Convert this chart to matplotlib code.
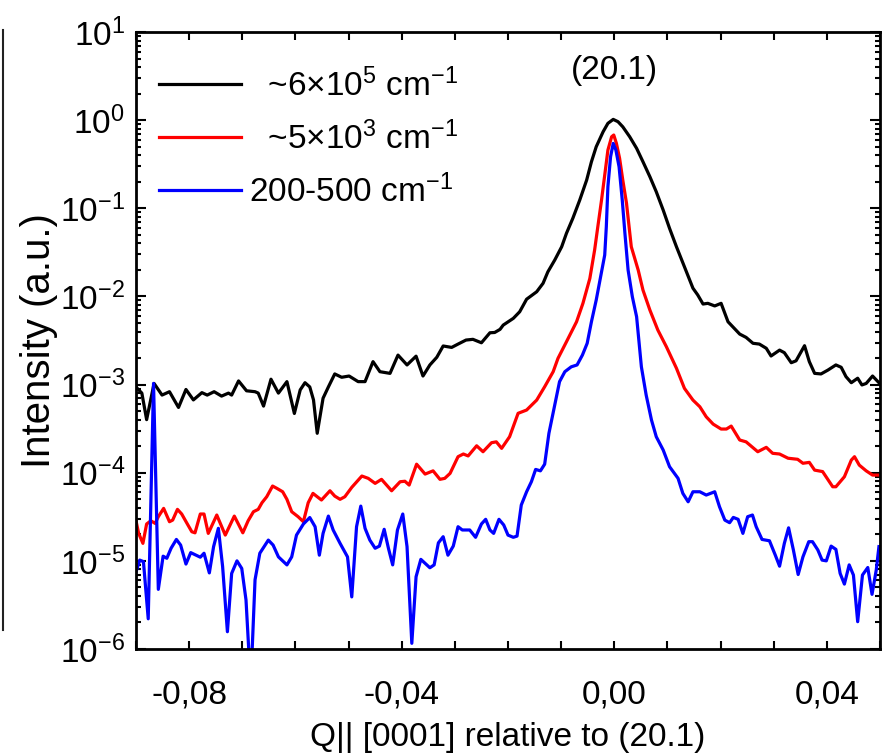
import numpy as np
import matplotlib
matplotlib.use("Agg")
import matplotlib.pyplot as plt
from matplotlib.ticker import MultipleLocator, FixedLocator, LogLocator, LogFormatterMathtext, NullFormatter
from matplotlib.lines import Line2D

plt.rcParams['font.family'] = ['Liberation Sans', 'DejaVu Sans']
plt.rcParams['mathtext.fontset'] = 'custom'
plt.rcParams['mathtext.rm'] = 'Liberation Sans'
plt.rcParams['mathtext.it'] = 'Liberation Sans:italic'
plt.rcParams['mathtext.bf'] = 'Liberation Sans:bold'
plt.rcParams['axes.unicode_minus'] = False

# ---------------- data ----------------
labels = [r"  ~6×10$^5$ cm$^{-1}$", r"  ~5×10$^3$ cm$^{-1}$", r"200-500 cm$^{-1}$"]
colors = ["black", "#ff0000", "#0000ff"]
x_tick_values = [-0.08, -0.04, 0.00, 0.04]
x_tick_labels = ["-0,08", "-0,04", "0,00", "0,04"]

q_black = [-0.0898, -0.0889, -0.0880, -0.0866, -0.0851, -0.0837, -0.0820, -0.0806, -0.0792, -0.0776,
           -0.0766, -0.0753, -0.0739, -0.0726, -0.0720, -0.0707, -0.0692, -0.0676, -0.0670, -0.0660,
           -0.0646, -0.0632, -0.0616, -0.0602, -0.0591, -0.0582, -0.0573, -0.0566, -0.0559, -0.0548,
           -0.0538, -0.0526, -0.0513, -0.0499, -0.0482, -0.0469, -0.0454, -0.0441, -0.0422, -0.0407,
           -0.0390, -0.0373, -0.0360, -0.0347, -0.0334, -0.0322, -0.0306, -0.0294, -0.0279, -0.0266,
           -0.0250, -0.0234, -0.0225, -0.0215, -0.0209, -0.0190, -0.0178, -0.0165, -0.0146, -0.0134,
           -0.0125, -0.0112, -0.0099, -0.0090, -0.0078, -0.0065, -0.0052, -0.0043, -0.0034, -0.0021,
           -0.0012, -0.0002, 0.0007, 0.0016, 0.0029, 0.0042, 0.0054, 0.0067, 0.0079, 0.0092,
           0.0104, 0.0117, 0.0132, 0.0148, 0.0157, 0.0167, 0.0176, 0.0189, 0.0201, 0.0214,
           0.0236, 0.0248, 0.0261, 0.0273, 0.0286, 0.0295, 0.0311, 0.0320, 0.0333, 0.0342,
           0.0358, 0.0367, 0.0377, 0.0389, 0.0402, 0.0417, 0.0427, 0.0436, 0.0446, 0.0458,
           0.0466, 0.0474, 0.0486, 0.0498]
i_black = [9.1e-4, 8.0e-4, 4.0e-4, 1.03e-3, 7.6e-4, 8.3e-4, 5.5e-4, 8.8e-4, 6.7e-4, 8.1e-4,
           7.6e-4, 8.3e-4, 7.4e-4, 8.0e-4, 7.6e-4, 1.1e-3, 8.5e-4, 8.3e-4, 8.0e-4, 5.7e-4,
           1.15e-3, 8.0e-4, 1.08e-3, 4.7e-4, 8.7e-4, 1.05e-3, 9.4e-4, 6.7e-4, 2.8e-4, 7.0e-4,
           9.4e-4, 1.32e-3, 1.21e-3, 1.25e-3, 1.08e-3, 1.08e-3, 1.82e-3, 1.4e-3, 1.34e-3, 2.16e-3,
           1.67e-3, 2.1e-3, 1.25e-3, 1.67e-3, 2.04e-3, 2.74e-3, 2.64e-3, 2.88e-3, 3.2e-3, 3.26e-3,
           2.98e-3, 3.87e-3, 3.9e-3, 4.23e-3, 4.73e-3, 5.64e-3, 6.7e-3, 9.3e-3, 1.13e-2, 1.41e-2,
           1.9e-2, 2.59e-2, 3.66e-2, 5.2e-2, 7.7e-2, 0.124, 0.209, 0.337, 0.499, 0.739,
           0.92, 1.02, 0.96, 0.84, 0.648, 0.479, 0.337, 0.228, 0.154, 0.0955,
           0.0592, 0.0366, 0.0217, 0.0124, 0.0104, 8.2e-3, 8.35e-3, 7.8e-3, 8.35e-3, 5.16e-3,
           3.74e-3, 3.43e-3, 2.94e-3, 2.88e-3, 2.58e-3, 2.11e-3, 2.46e-3, 2.3e-3, 1.77e-3, 1.86e-3,
           2.76e-3, 1.82e-3, 1.34e-3, 1.32e-3, 1.46e-3, 1.67e-3, 1.57e-3, 1.23e-3, 1.05e-3, 1.18e-3,
           9.9e-4, 1.03e-3, 1.25e-3, 1.05e-3]

q_red = [-0.0900, -0.0895, -0.0887, -0.0880, -0.0872, -0.0864, -0.0858, -0.0848, -0.0837, -0.0831,
         -0.0822, -0.0814, -0.0804, -0.0795, -0.0789, -0.0779, -0.0772, -0.0764, -0.0748, -0.0732,
         -0.0715, -0.0699, -0.0689, -0.0679, -0.0670, -0.0663, -0.0654, -0.0643, -0.0635, -0.0624,
         -0.0616, -0.0607, -0.0595, -0.0585, -0.0576, -0.0567, -0.0559, -0.0551, -0.0535, -0.0526,
         -0.0516, -0.0507, -0.0494, -0.0475, -0.0463, -0.0450, -0.0438, -0.0419, -0.0403, -0.0394,
         -0.0386, -0.0372, -0.0356, -0.0341, -0.0328, -0.0319, -0.0309, -0.0294, -0.0284, -0.0275,
         -0.0259, -0.0247, -0.0231, -0.0222, -0.0212, -0.0197, -0.0181, -0.0165, -0.0146, -0.0131,
         -0.0115, -0.0106, -0.0090, -0.0071, -0.0059, -0.0046, -0.0037, -0.0031, -0.0024, -0.0018,
         -0.0012, -0.0005, -0.0001, 0.0004, 0.0010, 0.0016, 0.0023, 0.0032, 0.0045, 0.0054,
         0.0067, 0.0082, 0.0098, 0.0117, 0.0132, 0.0148, 0.0161, 0.0173, 0.0186, 0.0201,
         0.0211, 0.0220, 0.0236, 0.0248, 0.0270, 0.0286, 0.0298, 0.0311, 0.0327, 0.0345,
         0.0355, 0.0367, 0.0377, 0.0392, 0.0411, 0.0417, 0.0433, 0.0446, 0.0452, 0.0461,
         0.0474, 0.0486, 0.0498]
i_red = [2.85e-5, 2.05e-5, 1.58e-5, 2.62e-5, 2.85e-5, 2.66e-5, 3.17e-5, 3.94e-5, 2.78e-5, 2.9e-5,
         3.84e-5, 3.4e-5, 2.66e-5, 2.14e-5, 2.08e-5, 3.4e-5, 3.4e-5, 2.05e-5, 3.31e-5, 1.96e-5,
         3.22e-5, 2.08e-5, 2.85e-5, 3.61e-5, 3.84e-5, 4.56e-5, 5.34e-5, 7.06e-5, 6.65e-5, 6.08e-5,
         4.99e-5, 3.61e-5, 3.17e-5, 2.78e-5, 4.56e-5, 5.83e-5, 5.34e-5, 4.9e-5, 6.24e-5, 5.43e-5,
         4.99e-5, 5.34e-5, 6.82e-5, 9.17e-5, 8.63e-5, 7.57e-5, 8.41e-5, 6.24e-5, 7.9e-5, 8.0e-5,
         7.24e-5, 1.25e-4, 9.65e-5, 1.05e-4, 8.41e-5, 8.63e-5, 9.83e-5, 1.52e-4, 1.63e-4, 1.55e-4,
         2.02e-4, 1.73e-4, 2.19e-4, 2.24e-4, 1.89e-4, 2.56e-4, 4.72e-4, 5.14e-4, 6.67e-4, 9.45e-4,
         1.4e-3, 1.98e-3, 3.06e-3, 5.16e-3, 8.35e-3, 0.016, 0.0336, 0.0617, 0.124, 0.238,
         0.458, 0.648, 0.678, 0.545, 0.369, 0.209, 0.114, 0.0366, 0.0199, 0.0118,
         7.0e-3, 4.15e-3, 2.69e-3, 1.53e-3, 9.06e-4, 6.67e-4, 5.6e-4, 4.31e-4, 3.56e-4, 3.13e-4,
         3.13e-4, 3.38e-4, 2.35e-4, 2.24e-4, 1.73e-4, 1.94e-4, 1.66e-4, 1.63e-4, 1.46e-4, 1.42e-4,
         1.28e-4, 1.31e-4, 1.07e-4, 1.03e-4, 6.93e-5, 6.93e-5, 9.0e-5, 1.39e-4, 1.52e-4, 1.22e-4,
         1.05e-4, 9.4e-5, 9.4e-5]

q_blue = [-0.0900, -0.0893, -0.0886, -0.0877, -0.0867, -0.0858, -0.0849, -0.0842, -0.0834, -0.0824,
          -0.0816, -0.0806, -0.0797, -0.0787, -0.0779, -0.0772, -0.0762, -0.0754, -0.0745, -0.0737,
          -0.0728, -0.0720, -0.0710, -0.0701, -0.0693, -0.0687, -0.0682, -0.0676, -0.0667, -0.0651,
          -0.0642, -0.0632, -0.0616, -0.0607, -0.0598, -0.0585, -0.0573, -0.0563, -0.0555, -0.0548,
          -0.0538, -0.0529, -0.0516, -0.0502, -0.0494, -0.0485, -0.0477, -0.0469, -0.0460, -0.0450,
          -0.0442, -0.0433, -0.0425, -0.0417, -0.0408, -0.0398, -0.0390, -0.0381, -0.0373, -0.0364,
          -0.0347, -0.0339, -0.0331, -0.0322, -0.0313, -0.0303, -0.0294, -0.0286, -0.0272, -0.0261,
          -0.0250, -0.0242, -0.0234, -0.0227, -0.0217, -0.0208, -0.0200, -0.0190, -0.0183, -0.0175,
          -0.0165, -0.0156, -0.0148, -0.0139, -0.0131, -0.0123, -0.0112, -0.0103, -0.0093, -0.0081,
          -0.0070, -0.0060, -0.0051, -0.0043, -0.0034, -0.0027, -0.0018, -0.0015, -0.0012, -0.0007,
          -0.0002, 0.0003, 0.0009, 0.0015, 0.0020, 0.0026, 0.0034, 0.0042, 0.0051, 0.0060,
          0.0070, 0.0079, 0.0092, 0.0104, 0.0120, 0.0129, 0.0139, 0.0148, 0.0161, 0.0173,
          0.0189, 0.0198, 0.0208, 0.0217, 0.0224, 0.0233, 0.0242, 0.0251, 0.0260, 0.0267,
          0.0278, 0.0292, 0.0303, 0.0311, 0.0320, 0.0328, 0.0337, 0.0346, 0.0355, 0.0366,
          0.0373, 0.0383, 0.0391, 0.0399, 0.0408, 0.0417, 0.0425, 0.0433, 0.0442, 0.0450,
          0.0458, 0.0467, 0.0477, 0.0485, 0.0493, 0.0498]
i_blue = [7.5e-6, 1.02e-5, 9.8e-6, 2.2e-6, 1.03e-3, 4.75e-6, 1.13e-5, 1.07e-5, 1.39e-5, 1.75e-5,
          1.51e-5, 9.2e-6, 1.24e-5, 1.16e-5, 1.1e-5, 1.22e-5, 7.3e-6, 1.45e-5, 2.34e-5, 8.6e-6,
          1.57e-6, 7.2e-6, 1.0e-5, 8.2e-6, 3.6e-6, 8.0e-7, 8.0e-7, 6.1e-6, 1.22e-5, 1.72e-5,
          1.51e-5, 1.11e-5, 9.0e-6, 1.11e-5, 1.96e-5, 2.62e-5, 3.1e-5, 2.44e-5, 1.16e-5, 2.05e-5,
          3.22e-5, 2.24e-5, 1.58e-5, 1.11e-5, 3.9e-6, 2.44e-5, 4.18e-5, 2.34e-5, 1.72e-5, 1.39e-5,
          1.47e-5, 2.28e-5, 1.39e-5, 9.0e-6, 2.24e-5, 3.4e-5, 1.45e-5, 1.16e-6, 6.6e-6, 1.04e-5,
          8.35e-6, 9.0e-6, 1.6e-5, 1.88e-5, 1.16e-5, 1.47e-5, 2.44e-5, 2.24e-5, 2.24e-5, 1.85e-5,
          2.62e-5, 2.96e-5, 2.24e-5, 2.05e-5, 2.96e-5, 2.55e-5, 1.96e-5, 1.85e-5, 1.91e-5, 4.3e-5,
          6.08e-5, 7.9e-5, 1.09e-4, 1.05e-4, 1.25e-4, 2.8e-4, 5.86e-4, 1.08e-3, 1.4e-3, 1.59e-3,
          1.67e-3, 2.16e-3, 2.94e-3, 5.16e-3, 9.1e-3, 1.53e-2, 2.95e-2, 0.0617, 0.176, 0.384,
          0.545, 0.458, 0.296, 0.124, 0.052, 0.0199, 9.9e-3, 5.88e-3, 1.59e-3, 7.6e-4,
          3.96e-4, 2.56e-4, 1.81e-4, 1.17e-4, 8.63e-5, 5.83e-5, 4.68e-5, 6.08e-5, 6.08e-5, 5.58e-5,
          6.08e-5, 4.11e-5, 2.9e-5, 2.71e-5, 3.11e-5, 2.96e-5, 2.05e-5, 3.17e-5, 3.31e-5, 2.44e-5,
          1.75e-5, 1.69e-5, 1.16e-5, 8.7e-6, 1.58e-5, 2.37e-5, 1.33e-5, 7.0e-6, 1.11e-5, 1.65e-5,
          1.65e-5, 1.33e-5, 1.02e-5, 1.0e-5, 1.47e-5, 1.35e-5, 7.2e-6, 5.45e-6, 9.0e-6, 6.9e-6,
          2.04e-6, 6.9e-6, 8.4e-6, 4.17e-6, 7.9e-6, 1.45e-5]

peak_label = "(20.1)"
xlabel = "Q|| [0001] relative to (20.1)"
ylabel = "Intensity (a.u.)"

# ---------------- figure ----------------
fig = plt.figure(figsize=(8.84, 7.55), dpi=100)
ax = fig.add_axes([136/884, 1-649/755, (880-136)/884, (649-32)/755])

series = [(q_black, i_black), (q_red, i_red), (q_blue, i_blue)]
for (q, inten), c, lab in zip(series, colors, labels):
    ax.plot(q, inten, color=c, lw=2.3, label=lab, solid_joinstyle='round')

ax.set_yscale('log')
ax.set_xlim(-0.09, 0.05)
ax.set_ylim(1e-6, 10)

FS = 24
ax.xaxis.set_major_locator(FixedLocator(x_tick_values))
ax.set_xticklabels(x_tick_labels)
ax.xaxis.set_minor_locator(MultipleLocator(0.01))
ax.yaxis.set_major_locator(LogLocator(base=10, numticks=20))
ax.yaxis.set_minor_locator(LogLocator(base=10, subs=np.arange(2, 10), numticks=20))
ax.yaxis.set_major_formatter(LogFormatterMathtext())
ax.yaxis.set_minor_formatter(NullFormatter())

ax.tick_params(axis='both', which='both', direction='in', top=True, right=True, width=1.5)
ax.tick_params(axis='x', which='both', length=6)
ax.tick_params(axis='x', which='major', pad=22, labelsize=FS)
ax.tick_params(axis='y', which='major', length=7, pad=8, labelsize=FS)
ax.tick_params(axis='y', which='minor', length=3.5)
for s in ax.spines.values():
    s.set_linewidth(2.0)

ax.set_xlabel(xlabel, fontsize=FS, labelpad=8)
ax.set_ylabel(ylabel, fontsize=29)
ax.yaxis.set_label_coords(-0.105, 0.5)

ax.text(0.0, 3.7, peak_label, ha='center', va='center', fontsize=FS)

leg = ax.legend(loc='upper left', frameon=False, fontsize=FS, handlelength=2.45,
                handletextpad=0.25, labelspacing=0.56, borderaxespad=0.3,
                bbox_to_anchor=(0.0, 1.0 - 13/617))

# thin vertical rule at the far left of the image
fig.add_artist(Line2D([3/884, 3/884], [1-30/755, 1-630/755], color='#222222', lw=1.5))

fig.savefig("out.png", dpi=100)
